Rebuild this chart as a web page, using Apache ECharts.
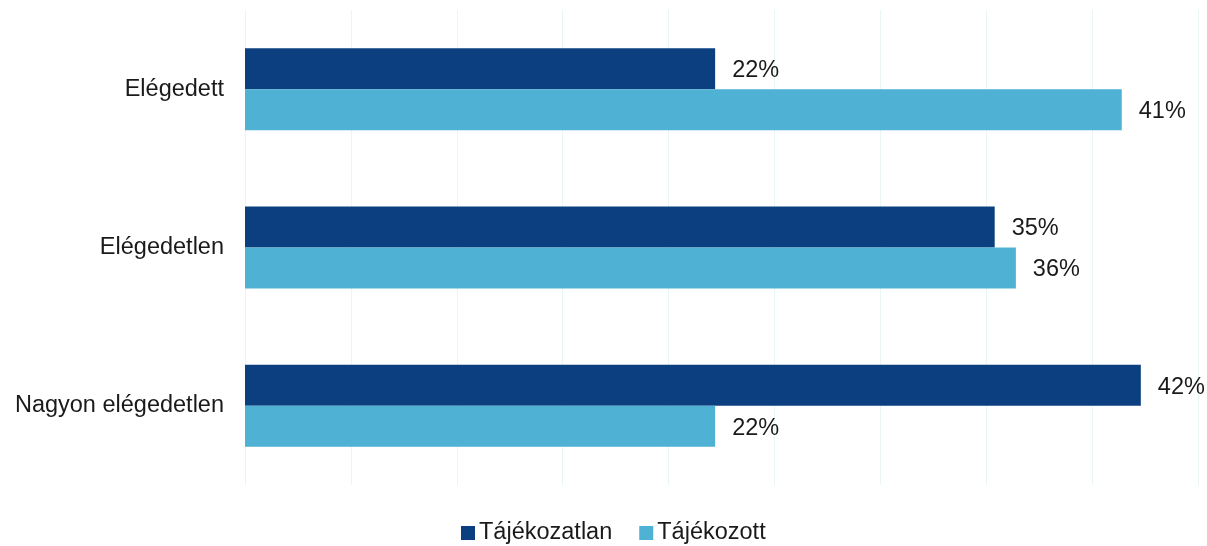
<!DOCTYPE html>
<html><head><meta charset="utf-8">
<script src="https://cdn.jsdelivr.net/npm/echarts@6/dist/echarts.min.js"></script>
<style>html,body{margin:0;padding:0;background:#fff}#c{width:1207px;height:546px}</style>
</head><body><div id="c"></div>
<script>
const categories = ['Elégedett', 'Elégedetlen', 'Nagyon elégedetlen'];
const seriesNames = ['Tájékozatlan', 'Tájékozott'];
const tajekozatlan = [0.222, 0.354, 0.423];
const tajekozott = [0.414, 0.364, 0.222];
const colors = ['#0b3f7f', '#4fb1d3'];
const font = 'Liberation Sans, Arial, sans-serif';
const fs = 23.5;
const chart = echarts.init(document.getElementById('c'));
const mk = (name, data, color) => ({
  name, type: 'bar', data, barWidth: 41, barGap: '0%',
  itemStyle: { color },
  label: { show: true, position: 'right', distance: 17, offset: [0, 2], color: '#1a1a1a', fontSize: fs, fontFamily: font,
    formatter: p => Math.round(p.value * 100) + '%' }
});
chart.setOption({
  animation: false,
  grid: { left: 245, right: 9, top: 10, bottom: 61, containLabel: false },
  legend: { top: 521, left: 461, itemWidth: 14, itemHeight: 14, itemGap: 27, icon: 'rect', padding: 0,
    textStyle: { fontSize: fs, fontFamily: font, color: '#1a1a1a', padding: [0, 0, 0, -1] }, data: seriesNames },
  xAxis: { type: 'value', min: 0, max: 0.45, interval: 0.05,
    axisLabel: { show: false }, axisLine: { show: false }, axisTick: { show: false },
    splitLine: { show: true, lineStyle: { color: '#eaf6f3', width: 1 } } },
  yAxis: { type: 'category', data: categories, inverse: true,
    axisLine: { show: false }, axisTick: { show: false },
    axisLabel: { fontSize: fs, fontFamily: font, color: '#1a1a1a', margin: 21 } },
  series: [mk(seriesNames[0], tajekozatlan, colors[0]), mk(seriesNames[1], tajekozott, colors[1])]
});
</script></body></html>
